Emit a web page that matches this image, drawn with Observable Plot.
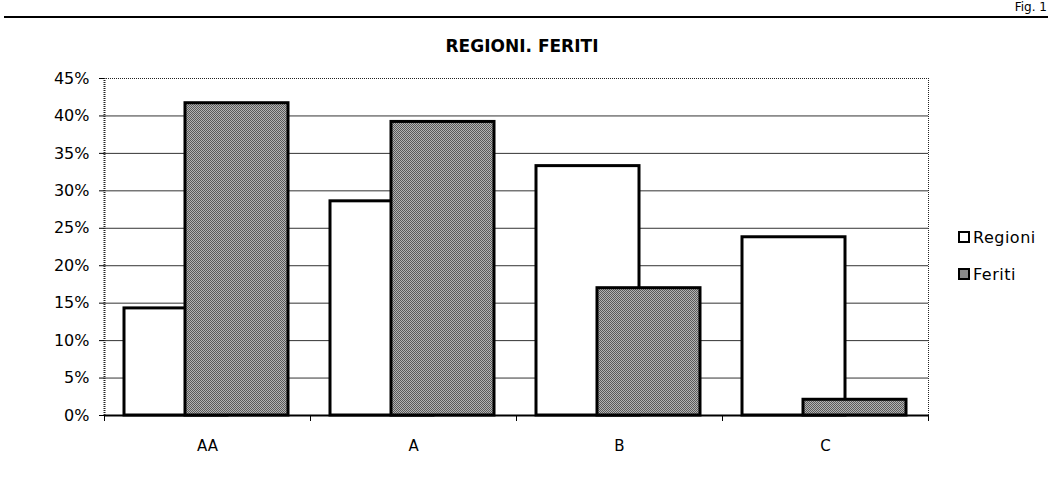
<!DOCTYPE html>
<html>
<head>
<meta charset="utf-8">
<script src="https://cdn.jsdelivr.net/npm/d3@7"></script>
<script src="https://cdn.jsdelivr.net/npm/@observablehq/plot@0.6"></script>
<style>
  html, body { margin: 0; padding: 0; background: #fff; }
  body { width: 1050px; height: 477px; position: relative; overflow: hidden; font-family: "DejaVu Sans", sans-serif; }
  #rule { position: absolute; left: 4px; top: 16px; width: 1044px; height: 2px; background: #000; }
  #fig { position: absolute; right: 3px; top: 1px; font-size: 12px; line-height: 13px; color: #000; }
  #title { position: absolute; left: 0; width: 1050px; top: 36px; text-align: center; font-weight: bold; font-size: 17px; }
  #title span { position: relative; left: -3px; }
  #legend { position: absolute; left: 958px; top: 227px; font-size: 16px; letter-spacing: 0.5px; }
  .li { display: flex; align-items: center; height: 20px; margin-bottom: 17px; }
  .sw { width: 8px; height: 8px; border: 2px solid #000; margin-right: 3px; }
  #chart { position: absolute; left: 0; top: 0; }
</style>
</head>
<body>
<div id="chart"></div>
<div id="rule"></div>
<div id="fig">Fig. 1</div>
<div id="title"><span>REGIONI. FERITI</span></div>
<div id="legend"></div>
<script>
const categories = ["AA", "A", "B", "C"];
const regioni = [14.3, 28.6, 33.3, 23.8];
const feriti = [41.7, 39.2, 17.0, 2.1];
const yTicks = [0, 5, 10, 15, 20, 25, 30, 35, 40, 45];
const seriesNames = ["Regioni", "Feriti"];

const rowsR = categories.map((c, i) => ({cat: c, value: regioni[i]}));
const rowsF = categories.map((c, i) => ({cat: c, value: feriti[i]}));

const grayFill = "url(#dotfill)";

const plot = Plot.plot({
  width: 1050,
  height: 477,
  marginLeft: 104,
  marginRight: 122,
  marginTop: 78,
  marginBottom: 62,
  style: {fontFamily: "DejaVu Sans, sans-serif", fontSize: "14px", color: "#000", background: "transparent"},
  x: {domain: categories, padding: 0, label: null},
  y: {domain: [0, 45], ticks: yTicks, label: null},
  marks: [
    Plot.ruleY(yTicks.filter(d => d > 0 && d < 45), {stroke: "#333", strokeWidth: 1}),
    Plot.ruleY([45], {stroke: "#222", strokeWidth: 1, strokeDasharray: "1,1"}),
    Plot.ruleX([categories[categories.length - 1]], {dx: 103, stroke: "#222", strokeWidth: 1, strokeDasharray: "1,1", y1: 0, y2: 45}),
    Plot.barY(rowsR, {x: "cat", y: "value", fill: "#fff", stroke: "#000", strokeWidth: 3, insetLeft: 20, insetRight: 83}),
    Plot.barY(rowsF, {x: "cat", y: "value", fill: grayFill, stroke: "#000", strokeWidth: 3, insetLeft: 81, insetRight: 22}),
    Plot.ruleY([0], {stroke: "#000", strokeWidth: 2}),
    Plot.ruleX([0], {x: () => categories[0], dx: -103, y1: 0, y2: 45, stroke: "#222", strokeWidth: 2, strokeDasharray: "1,1"}),
    Plot.axisY({ticks: yTicks, tickFormat: d => d + "%", tickSize: 5, tickPadding: 10, fontSize: 16, stroke: "#000"}),
    Plot.axisX({tickSize: 0, tickPadding: 25, fontSize: 15}),
    Plot.axisX({tickSize: 6, tickFormat: () => "", dx: -103, stroke: "#000"}),
    Plot.axisX({ticks: [categories[categories.length - 1]], tickSize: 6, tickFormat: () => "", dx: 103, stroke: "#000"})
  ]
});

// pattern for the stippled gray fill
const ns = "http://www.w3.org/2000/svg";
const defs = document.createElementNS(ns, "defs");
defs.innerHTML = `<pattern id="dotfill" width="2" height="2" patternUnits="userSpaceOnUse">
  <rect width="2" height="2" fill="#b4b4b4"/>
  <rect width="1" height="1" fill="#5a5a5a"/>
  <rect x="1" y="1" width="1" height="1" fill="#5a5a5a"/>
</pattern>`;
plot.insertBefore(defs, plot.firstChild);
document.getElementById("chart").appendChild(plot);

// legend
const legend = document.getElementById("legend");
seriesNames.forEach((name, i) => {
  const li = document.createElement("div");
  li.className = "li";
  const sw = document.createElement("div");
  sw.className = "sw";
  sw.style.background = i === 0 ? "#fff" : "#8a8a8a";
  const tx = document.createElement("span");
  tx.textContent = name;
  li.appendChild(sw);
  li.appendChild(tx);
  legend.appendChild(li);
});
</script>
</body>
</html>
